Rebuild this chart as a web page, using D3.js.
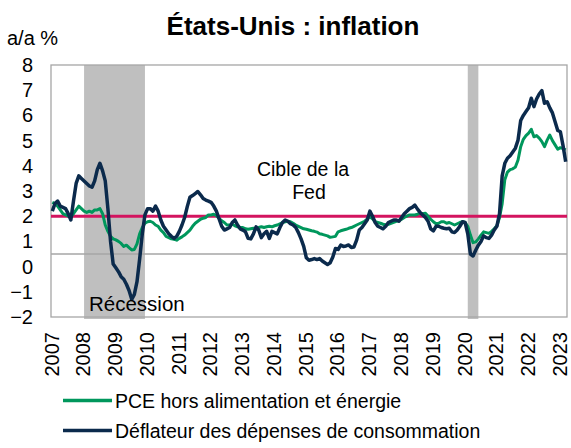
<!DOCTYPE html>
<html><head><meta charset="utf-8">
<script src="https://cdn.jsdelivr.net/npm/d3@7/dist/d3.min.js"></script>
<style>
body{margin:0;background:#fff}
svg{display:block;font-family:"Liberation Sans",Arial,sans-serif}
</style>
</head><body>
<svg id="chart" width="571" height="448"></svg>
<script>
// ---------------- DATA ----------------
const startYear = 2007;
const yearLabels = ["2007","2008","2009","2010","2011","2012","2013","2014","2015","2016","2017","2018","2019","2020","2021","2022","2023"];
const yTicks = [8,7,6,5,4,3,2,1,0,-1,-2];
const fedTarget = 2;
const axisCrossValue = 0.5;
const recessions = [["2008-01","2009-12"],["2020-02","2020-06"]];
const seriesNames = ["PCE hors alimentation et énergie","Déflateur des dépenses de consommation"];

// monthly y/y %, Jan 2007 onward
const deflator = [
 2.2,2.5,2.6,2.4,2.35,2.3,2.1,1.85,2.6,3.3,3.6,3.5,
 3.4,3.3,3.2,3.15,3.4,3.85,4.1,3.8,3.4,2.3,1.0,0.1,
 -0.05,-0.2,-0.4,-0.5,-0.7,-0.95,-1.3,-1.1,-0.6,0.3,1.3,2.05,
 2.3,2.3,2.2,2.4,2.2,1.85,1.6,1.45,1.3,1.2,1.12,1.2,
 1.4,1.65,1.95,2.38,2.75,2.82,2.9,2.98,2.85,2.7,2.64,2.6,
 2.55,2.4,2.2,1.9,1.6,1.45,1.5,1.55,1.75,1.85,1.65,1.5,
 1.45,1.38,1.12,1.1,1.3,1.58,1.45,1.15,1.3,1.4,1.12,1.4,
 1.35,1.3,1.55,1.75,1.85,1.8,1.7,1.65,1.55,1.35,1.1,0.8,
 0.35,0.25,0.28,0.32,0.28,0.32,0.22,0.15,0.08,0.15,0.38,
 0.72,0.68,0.85,0.8,0.82,0.86,0.76,0.78,1.05,1.45,1.55,1.7,
 1.85,2.2,2.0,1.75,1.6,1.55,1.5,1.6,1.75,1.8,1.85,1.85,
 1.8,1.95,2.1,2.2,2.3,2.35,2.44,2.28,2.15,2.05,1.95,1.8,
 1.5,1.42,1.6,1.6,1.55,1.52,1.5,1.52,1.38,1.35,1.45,1.6,
 1.78,1.75,1.3,0.5,0.42,0.65,0.85,1.0,1.22,1.15,1.12,1.25,
 1.45,1.6,2.1,3.6,4.1,4.3,4.4,4.55,4.7,5.02,5.8,6.0,
 6.15,6.3,6.68,6.35,6.65,6.85,6.98,6.48,6.54,6.3,6.1,5.75,
 5.4,5.35,4.8,4.16
];
const core = [
 2.55,2.5,2.4,2.25,2.1,2.05,2.0,1.98,2.1,2.25,2.4,2.3,
 2.2,2.15,2.2,2.15,2.25,2.25,2.3,2.1,1.65,1.4,1.2,1.1,
 1.06,1.0,0.92,0.8,0.85,0.75,0.66,0.68,0.9,1.3,1.55,1.72,
 1.78,1.8,1.75,1.65,1.6,1.45,1.35,1.2,1.15,1.1,1.08,1.05,
 1.12,1.18,1.25,1.35,1.45,1.6,1.72,1.8,1.88,1.92,1.95,2.05,
 2.05,2.08,2.02,1.92,1.82,1.75,1.65,1.65,1.68,1.62,1.58,1.55,
 1.55,1.5,1.48,1.5,1.52,1.5,1.55,1.58,1.55,1.58,1.6,1.58,
 1.62,1.65,1.7,1.75,1.78,1.8,1.78,1.72,1.65,1.6,1.55,1.5,
 1.48,1.45,1.42,1.4,1.37,1.3,1.28,1.25,1.22,1.16,1.18,
 1.2,1.38,1.42,1.45,1.48,1.52,1.55,1.6,1.65,1.7,1.75,1.8,
 1.88,1.98,1.9,1.78,1.75,1.72,1.68,1.65,1.68,1.72,1.76,1.8,
 1.82,1.88,1.95,2.0,2.05,2.05,2.05,2.08,2.12,2.1,2.12,2.0,
 1.88,1.78,1.7,1.72,1.78,1.78,1.72,1.75,1.7,1.65,1.7,1.75,
 1.78,1.75,1.6,1.25,0.95,0.98,1.1,1.25,1.38,1.35,1.32,1.4,
 1.5,1.62,1.95,2.5,3.45,3.75,3.85,3.88,3.95,4.23,4.76,5.05,
 5.2,5.3,5.45,5.15,5.2,5.1,4.96,4.76,5.02,5.22,5.0,4.83,
 4.66,4.72,4.68,4.63
];

// ---------------- STYLE ----------------
const C = {navy:"#0b2a4c", green:"#00975c", pink:"#d3145f", band:"#bfbfbf", frame:"#a6a6a6", text:"#000"};
const L = 51, R = 567, T = 65, B = 317;

const svg = d3.select("#chart");
const N = deflator.length;
const x = d3.scaleLinear().domain([0, N]).range([L, R]);
const y = d3.scaleLinear().domain([-2, 8]).range([B, T]);
const monthIndex = s => { const [yy, mm] = s.split("-").map(Number); return (yy - startYear) * 12 + (mm - 1); };

// recession bands
svg.append("g").selectAll("rect").data(recessions).join("rect")
  .attr("x", d => x(monthIndex(d[0]) + 0.5))
  .attr("width", d => x(monthIndex(d[1]) + 0.5) - x(monthIndex(d[0]) + 0.5))
  .attr("y", y(8)).attr("height", y(-2) - y(8) + 2)
  .attr("fill", C.band);

// frame
svg.append("rect").attr("x", L).attr("y", T).attr("width", R - L).attr("height", B - T)
  .attr("fill", "none").attr("stroke", C.frame).attr("stroke-width", 1.3);

// horizontal axis crossing line
svg.append("line").attr("x1", L).attr("x2", R).attr("y1", y(axisCrossValue)).attr("y2", y(axisCrossValue))
  .attr("stroke", C.frame).attr("stroke-width", 1.3);

// Fed target
svg.append("line").attr("x1", L).attr("x2", R).attr("y1", y(fedTarget)).attr("y2", y(fedTarget))
  .attr("stroke", C.pink).attr("stroke-width", 3);

const line = d3.line().x((d, i) => x(i + 0.5)).y(d => y(d)).curve(d3.curveLinear);
svg.append("path").datum(core).attr("d", line).attr("fill", "none")
  .attr("stroke", C.green).attr("stroke-width", 3).attr("stroke-linejoin", "round");
svg.append("path").datum(deflator).attr("d", line).attr("fill", "none")
  .attr("stroke", C.navy).attr("stroke-width", 3.5).attr("stroke-linejoin", "round");

// y axis
const ya = svg.append("g").attr("transform", `translate(${L},0)`)
  .call(d3.axisLeft(y).tickValues(yTicks).tickSize(0).tickPadding(18).tickFormat(d3.format("d")));
ya.select(".domain").remove();
ya.selectAll("text").attr("font-size", 20).attr("fill", C.text).attr("font-family", "Liberation Sans, Arial, sans-serif");

// x axis
const xa = svg.append("g").attr("transform", `translate(0,${B})`)
  .call(d3.axisBottom(x).tickValues(yearLabels.map((d, k) => k * 12)).tickSize(0)
    .tickFormat((d, k) => yearLabels[k]));
xa.select(".domain").remove();
xa.selectAll("text").attr("font-size", 20).attr("fill", C.text)
  .attr("font-family", "Liberation Sans, Arial, sans-serif")
  .attr("transform", "rotate(-90)").attr("x", -15).attr("y", 0).attr("dy", "0.36em")
  .attr("text-anchor", "end");

// titles & annotations
svg.append("text").attr("x", 293).attr("y", 35).attr("text-anchor", "middle")
  .attr("font-size", 26).attr("font-weight", "bold").text("États-Unis : inflation");
svg.append("text").attr("x", 7).attr("y", 45).attr("font-size", 20).text("a/a %");
svg.append("text").attr("x", 303).attr("y", 176).attr("text-anchor", "middle").attr("font-size", 19.5).text("Cible de la");
svg.append("text").attr("x", 309).attr("y", 199).attr("text-anchor", "middle").attr("font-size", 19.5).text("Fed");
svg.append("text").attr("x", 89).attr("y", 311).attr("font-size", 20.5).text("Récession");

// legend
const leg = svg.append("g");
[[C.green, 400.5, 408], [C.navy, 430.5, 438]].forEach((c, k) => {
  leg.append("line").attr("x1", 63).attr("x2", 112).attr("y1", c[1]).attr("y2", c[1])
    .attr("stroke", c[0]).attr("stroke-width", 3.5);
  leg.append("text").attr("x", 115).attr("y", c[2]).attr("font-size", 19.5).text(seriesNames[k]);
});
</script>
</body></html>
